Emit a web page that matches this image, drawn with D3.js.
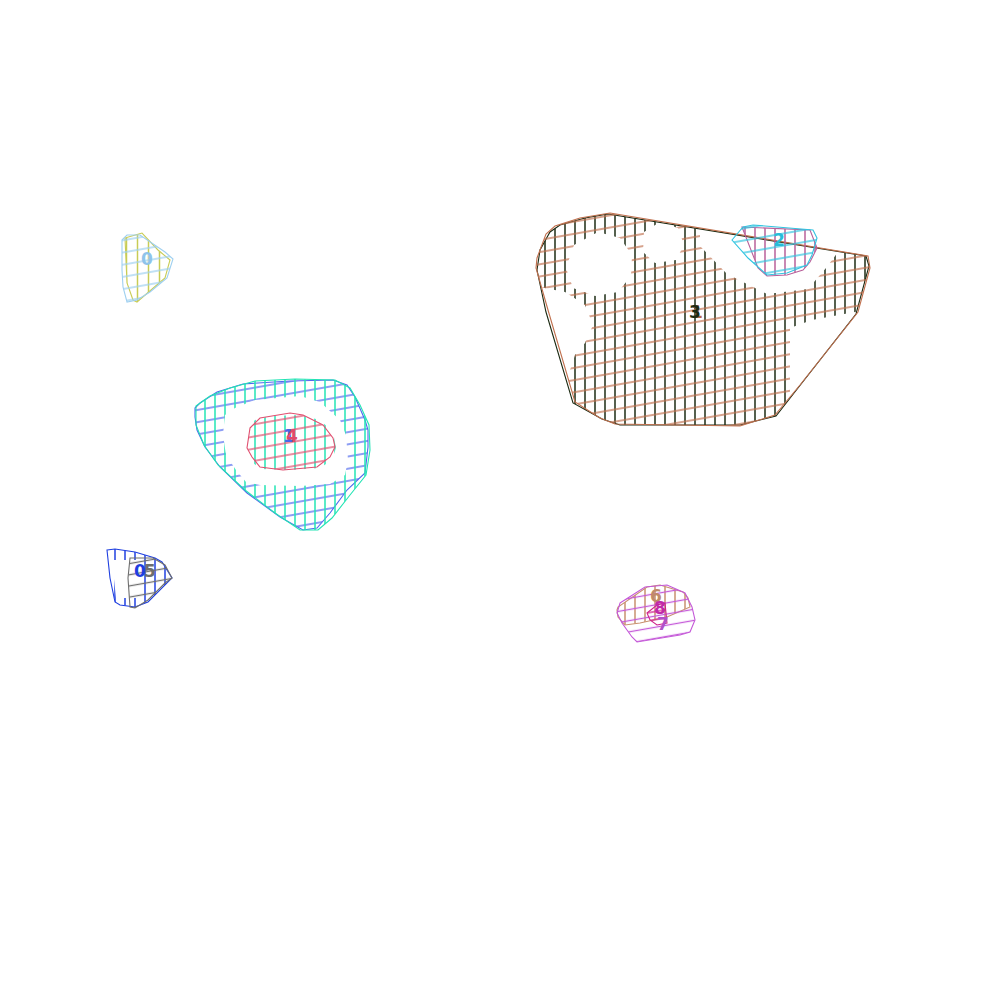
<!DOCTYPE html>
<html>
<head>
<meta charset="utf-8">
<script src="https://cdn.jsdelivr.net/npm/d3@7"></script>
<style>
  html, body { margin: 0; padding: 0; background: #fff; }
  svg { display: block; }
</style>
</head>
<body>
<script>
// ---------------- DATA (coordinates in data units, 0..100) ----------------
// Cluster A (top-left)
const hullA_yellow = [[12.5,23.8],[14.2,23.3],[15.8,25.0],[17.0,26.0],[16.5,27.8],[13.7,30.2],[13.3,30.0],[12.7,28.3]];
const hullA_blue   = [[12.2,24.0],[12.7,23.5],[14.0,23.5],[16.5,25.2],[17.3,25.9],[16.7,27.8],[15.0,29.2],[13.7,30.0],[12.7,30.2],[12.3,28.7],[12.2,27.0]];

// Cluster B (ring)
const hullB_blue  = [[19.5,40.8],[20.0,40.3],[21.7,39.2],[24.3,38.4],[29.0,38.1],[33.3,38.0],[34.7,38.5],[35.5,39.7],[36.5,42.0],[36.8,43.0],[36.8,44.7],[36.5,47.3],[34.7,49.0],[33.0,51.3],[31.7,52.8],[30.3,53.0],[28.0,51.7],[24.7,49.3],[22.0,46.7],[20.5,44.7],[19.7,43.0],[19.5,41.7]];
const hullB_cyan  = [[19.6,40.6],[21.0,39.6],[23.0,38.8],[25.5,38.1],[29.5,37.9],[33.5,38.0],[35.0,38.8],[36.0,40.5],[36.9,42.5],[37.0,45.0],[36.6,47.5],[35.0,49.5],[33.2,51.8],[31.8,53.0],[30.0,53.0],[27.5,51.3],[24.5,49.0],[21.8,46.5],[20.4,44.5],[19.6,42.5]];
const ringB_inner = [[22.5,41.5],[23.5,40.8],[25.5,40.0],[30.0,39.6],[32.0,40.2],[34.0,42.0],[34.6,43.5],[34.8,46.0],[34.5,47.5],[33.0,48.4],[30.0,48.6],[26.0,48.5],[24.6,48.2],[23.6,47.0],[22.6,45.5],[22.3,43.5]];
const coreB       = [[24.6,43.0],[25.5,42.0],[27.0,41.6],[30.0,41.5],[32.0,42.0],[33.3,43.2],[33.6,44.8],[33.2,46.0],[32.0,46.8],[29.0,47.0],[26.0,46.9],[25.0,46.0],[24.6,44.5]];
const hullB_red   = [[25.0,42.8],[26.0,41.8],[29.0,41.3],[30.3,41.5],[32.3,42.5],[33.3,43.8],[33.5,44.7],[33.0,45.7],[31.7,46.7],[28.3,47.0],[26.0,46.7],[25.2,45.7],[24.7,44.8]];

// Cluster C (bottom-left)
const hullC_blue = [[10.7,55.0],[11.5,54.9],[13.5,55.2],[15.5,55.8],[16.2,56.2],[17.2,57.8],[14.8,60.2],[13.5,60.7],[12.0,60.5],[11.5,60.2],[11.0,57.8]];
const hullC_grey = [[13.0,55.8],[15.3,55.8],[16.5,56.5],[17.2,57.8],[16.5,58.3],[14.8,60.0],[13.5,60.8],[13.0,60.7],[12.8,57.8]];
const holeC_blue = [[11.2,56.0],[14.2,56.0],[14.4,59.8],[11.6,59.8]];

// Cluster D (bottom-right small)
const hullD_tan     = [[61.7,61.0],[61.8,60.7],[64.7,58.7],[66.0,58.5],[68.3,59.2],[68.8,59.8],[69.0,60.7],[66.7,61.7],[64.0,62.3],[62.5,62.5],[61.8,61.7]];
const hullD_purple  = [[62.0,60.3],[64.5,58.7],[66.7,58.5],[68.5,59.3],[69.2,60.7],[69.5,62.0],[69.0,63.2],[68.0,63.5],[63.7,64.2],[63.2,63.7],[62.2,62.3],[61.7,61.3]];
const hullD_magenta = [[64.7,61.3],[65.7,60.5],[66.5,60.3],[66.7,62.3],[65.7,62.5],[65.0,62.0]];

// Cluster E (large)
const hullE_dark  = [[60.8,21.4],[86.6,25.6],[86.9,26.6],[85.6,31.4],[79.8,38.8],[77.6,41.6],[74.0,42.5],[62.0,42.5],[60.2,41.9],[57.3,40.3],[54.6,31.2],[53.7,27.0],[54.0,25.0],[55.0,23.2],[56.0,22.5],[58.5,21.8]];
const hullE_brown = [[61.0,21.3],[86.8,25.6],[87.0,26.8],[85.8,31.2],[80.0,38.5],[77.5,41.5],[74.0,42.6],[61.5,42.4],[60.0,41.8],[57.5,40.2],[54.8,31.0],[53.6,26.8],[53.7,25.8],[54.6,23.4],[55.5,22.6],[58.0,21.8]];
const holeE1 = [[59.8,23.2],[62.0,23.8],[63.2,25.5],[63.1,27.6],[61.8,29.2],[59.5,29.6],[57.3,28.8],[56.6,26.8],[57.4,24.5]];
const holeE2 = [[66.0,22.2],[67.8,22.8],[68.4,24.5],[67.6,26.0],[65.5,26.3],[64.3,25.2],[64.4,23.2]];
const holeE3 = [[70.0,21.5],[70.0,24.6],[72.7,27.4],[76.7,29.4],[80.8,28.9],[82.6,26.8],[83.8,25.2],[84.5,24.0],[84.5,21.5]];
const holeE4 = [[79.0,32.8],[79.0,43.5],[88.5,43.5],[88.5,30.0],[85.5,31.2],[81.2,32.0]];
const holeE5 = [[53.0,28.5],[56.5,29.2],[58.5,30.5],[59.3,32.5],[58.5,34.3],[57.5,35.5],[56.5,38.5],[53.0,39.0]];

// Cluster F (small, inside E)
const hullF_mauve = [[74.2,22.7],[81.0,23.0],[81.7,24.8],[81.0,26.2],[80.3,27.0],[78.7,27.5],[76.7,27.6],[75.8,26.8]];
const hullF_cyan  = [[73.2,24.0],[74.3,22.7],[75.3,22.5],[81.3,23.0],[81.7,23.8],[81.2,25.5],[80.7,26.5],[78.7,27.3],[76.7,27.5],[74.8,25.8]];

// Labels
const labelTexts = ["0", "1", "4", "0", "5", "6", "8", "7", "1", "3", "2"];
const labelX     = [14.7, 28.9, 29.2, 14.0, 15.0, 65.6, 66.0, 66.3, 69.7, 69.5, 77.9];
const labelY     = [25.9, 43.6, 43.6, 57.1, 57.1, 59.6, 60.8, 62.4, 31.2, 31.2, 24.0];
const labelColors = ["#8fc4ea", "#4a66e8", "#e04a6a", "#1f3fe0", "#6e6e6e", "#c08a6a", "#c02aa8", "#b050c8", "#b86848", "#1c2a12", "#28bcd8"];

// ---------------- RENDER ----------------
const W = 1000, H = 1000;
const x = d3.scaleLinear().domain([0, 100]).range([0, W]);
const y = d3.scaleLinear().domain([0, 100]).range([0, H]);
const ring = d3.line().x(d => x(d[0])).y(d => y(d[1])).curve(d3.curveLinearClosed);

const layers = [
  { hull: hullA_yellow, holes: [], color: "#c8cc55", hatch: "v", gap: 11 },
  { hull: hullA_blue, holes: [], color: "#9fd0f0", hatch: "s", gap: 12 },
  { hull: hullB_blue, holes: [ringB_inner], color: "#4f68ee", hatch: "s", gap: 12 },
  { hull: hullB_cyan, holes: [ringB_inner, coreB], color: "#22e4b4", hatch: "v", gap: 10 },
  { hull: hullB_red, holes: [], color: "#e05070", hatch: "s", gap: 12 },
  { hull: hullC_blue, holes: [holeC_blue], color: "#1f3fe0", hatch: "v", gap: 10 },
  { hull: hullC_grey, holes: [], color: "#6e6e6e", hatch: "s", gap: 11 },
  { hull: hullD_tan, holes: [], color: "#c8906e", hatch: "v", gap: 10 },
  { hull: hullD_purple, holes: [], color: "#c458d8", hatch: "s", gap: 11 },
  { hull: hullD_magenta, holes: [], color: "#d0208a", hatch: "s", gap: 8 },
  { hull: hullE_dark, holes: [holeE1, holeE2, holeE3, holeE4, holeE5], color: "#1c2a12", hatch: "v", gap: 10 },
  { hull: hullE_brown, holes: [holeE1, holeE2, holeE3, holeE4, holeE5], color: "#c0704e", hatch: "s", gap: 12 },
  { hull: hullF_mauve, holes: [], color: "#b8609a", hatch: "v", gap: 10 },
  { hull: hullF_cyan, holes: [], color: "#30c4e0", hatch: "s", gap: 12 }
];

const svg = d3.select("body").append("svg").attr("width", W).attr("height", H);
const defs = svg.append("defs");

layers.forEach((L, i) => {
  const p = defs.append("pattern")
    .attr("id", "hatch" + i)
    .attr("patternUnits", "userSpaceOnUse")
    .attr("width", L.gap).attr("height", L.gap);
  if (L.hatch === "v") {
    p.append("line").attr("x1", L.gap / 2).attr("x2", L.gap / 2).attr("y1", 0).attr("y2", L.gap)
      .attr("stroke", L.color).attr("stroke-width", 1.5);
  } else {
    p.attr("patternTransform", "rotate(-10)");
    p.append("line").attr("x1", 0).attr("x2", L.gap).attr("y1", L.gap / 2).attr("y2", L.gap / 2)
      .attr("stroke", L.color).attr("stroke-width", 1.3);
  }
  defs.append("clipPath").attr("id", "clip" + i)
    .append("path").attr("d", ring(L.hull));
});

const g = svg.append("g");
layers.forEach((L, i) => {
  const d = [L.hull, ...L.holes].map(r => ring(r)).join(" ");
  g.append("path")
    .attr("d", d)
    .attr("fill", `url(#hatch${i})`)
    .attr("fill-rule", "evenodd")
    .attr("clip-path", `url(#clip${i})`)
    .attr("stroke", "none");
  g.append("path")
    .attr("d", ring(L.hull))
    .attr("fill", "none")
    .attr("stroke", L.color)
    .attr("stroke-width", 1.1);
});

svg.append("g").selectAll("text")
  .data(labelTexts.map((t, i) => ({ t, x: labelX[i], y: labelY[i], c: labelColors[i] })))
  .join("text")
  .attr("x", d => x(d.x))
  .attr("y", d => y(d.y))
  .attr("text-anchor", "middle")
  .attr("dominant-baseline", "central")
  .attr("font-family", "DejaVu Sans, sans-serif")
  .attr("font-size", 17)
  .attr("font-weight", "bold")
  .attr("fill", d => d.c)
  .text(d => d.t);
</script>
</body>
</html>
